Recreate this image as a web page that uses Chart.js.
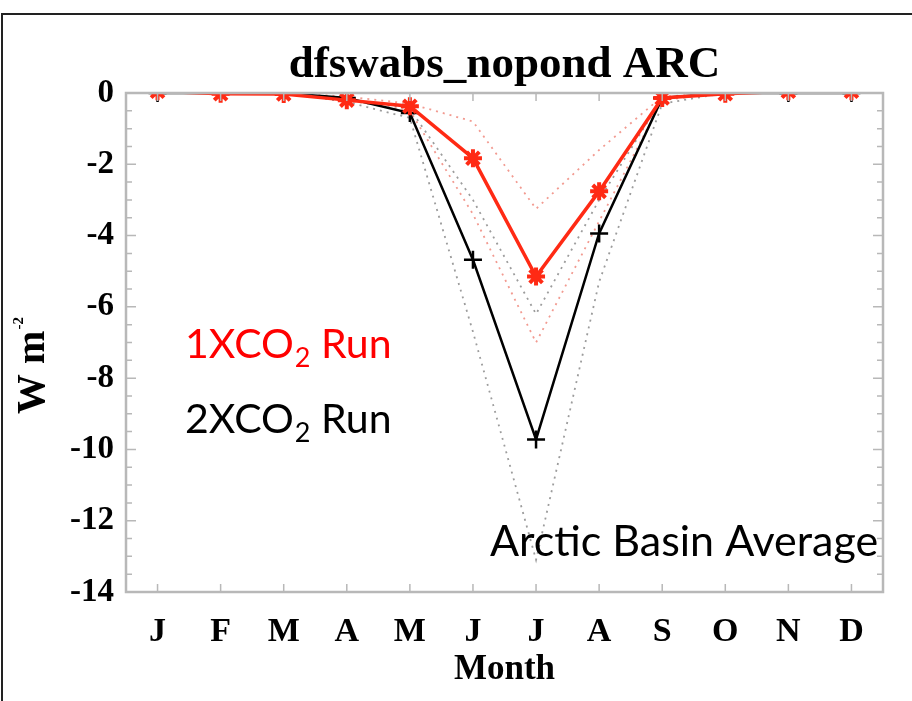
<!DOCTYPE html>
<html>
<head>
<meta charset="utf-8">
<script src="https://cdn.jsdelivr.net/npm/chart.js@4.4.0/dist/chart.umd.min.js"></script>
<style>
  html, body { margin: 0; padding: 0; background: #fff; }
  #wrap { width: 912px; height: 701px; position: relative; }
</style>
</head>
<body>
<div id="wrap"><canvas id="chart" width="912" height="701"></canvas></div>
<script>
// month labels on the x axis
const months = ["J", "F", "M", "A", "M", "J", "J", "A", "S", "O", "N", "D"];
const yTicks = [0, -2, -4, -6, -8, -10, -12, -14];

// W m-2
const run1x = [0.05, -0.02, -0.03, -0.2, -0.37, -1.83, -5.15, -2.76, -0.14, -0.02, 0.05, 0.05];
const run2x = [0, 0, 0, -0.14, -0.56, -4.68, -9.72, -3.94, -0.14, 0, 0, 0];

// dotted spread lines
const run1xHigh = [0, 0, 0, -0.1, -0.3, -0.8, -3.25, -1.6, -0.1, 0, 0, 0];
const run1xLow = [0, 0, 0, -0.2, -0.5, -3.4, -7.0, -3.6, -0.2, 0, 0, 0];
const run2xHigh = [0, 0, 0, -0.15, -0.45, -3.0, -6.2, -3.0, -0.15, 0, 0, 0];
const run2xLow = [0, 0, 0, -0.25, -0.7, -6.7, -13.1, -5.3, -0.3, 0, 0, 0];

const serif = "'Liberation Serif', 'Times New Roman', serif";
const sans = "Lato, 'Open Sans', sans-serif";
const boxColor = "#b8b8b8";

// Draws frame, inward ticks, titles and the text notes
const decorPlugin = {
    id: "decor",
    beforeDraw(chart) {
        const ctx = chart.ctx;
        ctx.save();
        ctx.fillStyle = "#fff";
        ctx.fillRect(0, 0, chart.width, chart.height);
        // outer picture frame
        ctx.strokeStyle = "#222";
        ctx.lineWidth = 2;
        ctx.beginPath();
        ctx.moveTo(912, 14);
        ctx.lineTo(2, 14);
        ctx.lineTo(2, 701);
        ctx.stroke();
        ctx.restore();
    },
    afterDatasetsDraw(chart) {
        const ctx = chart.ctx;
        const a = chart.chartArea;
        const xs = chart.scales.x;
        const ys = chart.scales.y;
        ctx.save();

        // plot box
        ctx.strokeStyle = boxColor;
        ctx.lineWidth = 2.5;
        ctx.strokeRect(a.left, a.top, a.right - a.left, a.bottom - a.top);

        // y ticks, major every 2, minor every 0.5
        ctx.lineWidth = 1.5;
        ctx.beginPath();
        for (let v = 0; v >= -14; v -= 0.5) {
            const y = ys.getPixelForValue(v);
            const len = (v % 2 === 0) ? 10 : 6;
            ctx.moveTo(a.left, y);
            ctx.lineTo(a.left + len, y);
            ctx.moveTo(a.right, y);
            ctx.lineTo(a.right - len, y);
        }
        // x ticks, one per month
        months.forEach((m, i) => {
            const x = xs.getPixelForValue(i);
            ctx.moveTo(x, a.bottom);
            ctx.lineTo(x, a.bottom - 8);
            ctx.moveTo(x, a.top);
            ctx.lineTo(x, a.top + 8);
        });
        ctx.stroke();

        // title
        ctx.fillStyle = "#000";
        ctx.textAlign = "center";
        ctx.textBaseline = "alphabetic";
        ctx.font = "bold 45px " + serif;
        ctx.fillText("dfswabs_nopond ARC", (a.left + a.right) / 2, 77);

        // x axis title
        ctx.font = "bold 35px " + serif;
        ctx.fillText("Month", (a.left + a.right) / 2, 679);

        // y axis title with superscript
        ctx.save();
        ctx.translate(44, 366);
        ctx.rotate(-Math.PI / 2);
        ctx.textAlign = "left";
        ctx.font = "bold 40px " + serif;
        const main = "W m";
        const wMain = ctx.measureText(main).width;
        ctx.font = "bold 15px " + serif;
        const wSup = ctx.measureText("-2").width;
        const start = -(wMain + wSup) / 2;
        ctx.font = "bold 40px " + serif;
        ctx.fillText(main, start, 0);
        ctx.font = "bold 15px " + serif;
        ctx.fillText("-2", start + wMain + 1, -21);
        ctx.restore();

        // run labels with subscript 2
        function runLabel(prefix, color, x, y) {
            ctx.textAlign = "left";
            ctx.fillStyle = color;
            ctx.font = "41px " + sans;
            ctx.fillText(prefix + "XCO", x, y);
            let w = ctx.measureText(prefix + "XCO").width;
            ctx.font = "27px " + sans;
            ctx.fillText("2", x + w + 1, y + 9);
            w += ctx.measureText("2").width + 1;
            ctx.font = "41px " + sans;
            ctx.fillText(" Run", x + w, y);
        }
        runLabel("1", "#ff0000", 185, 358);
        runLabel("2", "#000000", 185, 433);

        ctx.fillStyle = "#000";
        ctx.font = "43px " + sans;
        ctx.textAlign = "left";
        ctx.fillText("Arctic Basin Average", 490, 556);

        ctx.restore();
    }
};

const ctx = document.getElementById("chart").getContext("2d");

const chart = new Chart(ctx, {
    type: "line",
    data: {
        labels: months,
        datasets: [
            {
                label: "1XCO2 Run",
                data: run1x,
                borderColor: "#ff2a14",
                backgroundColor: "#ff2a14",
                borderWidth: 3.5,
                pointStyle: "star",
                pointRadius: 9,
                pointBorderWidth: 4,
                clip: 0,
                order: 1
            },
            {
                label: "2XCO2 Run",
                data: run2x,
                borderColor: "#000",
                backgroundColor: "#000",
                borderWidth: 2.5,
                pointStyle: "cross",
                pointRadius: 9,
                pointBorderWidth: 2.5,
                clip: 0,
                order: 2
            },
            {
                label: "1X high",
                data: run1xHigh,
                borderColor: "#f29a90",
                borderWidth: 1.8,
                borderDash: [2, 5],
                pointRadius: 0,
                clip: 0,
                order: 3
            },
            {
                label: "1X low",
                data: run1xLow,
                borderColor: "#f29a90",
                borderWidth: 1.8,
                borderDash: [2, 5],
                pointRadius: 0,
                clip: 0,
                order: 3
            },
            {
                label: "2X high",
                data: run2xHigh,
                borderColor: "#9c9c9c",
                borderWidth: 1.8,
                borderDash: [2, 5],
                pointRadius: 0,
                clip: 0,
                order: 4
            },
            {
                label: "2X low",
                data: run2xLow,
                borderColor: "#9c9c9c",
                borderWidth: 1.8,
                borderDash: [2, 5],
                pointRadius: 0,
                clip: 0,
                order: 4
            }
        ]
    },
    options: {
        responsive: false,
        animation: false,
        devicePixelRatio: 1,
        layout: {
            padding: { top: 93, right: 29, bottom: 0, left: 0 }
        },
        plugins: {
            legend: { display: false },
            tooltip: { enabled: false },
            title: { display: false }
        },
        elements: {
            line: { tension: 0 }
        },
        scales: {
            x: {
                type: "category",
                offset: true,
                grid: { display: false, drawTicks: false },
                border: { display: false },
                ticks: {
                    color: "#000",
                    padding: 20,
                    maxRotation: 0,
                    font: { family: serif, size: 34, weight: "bold" }
                },
                afterFit(scale) { scale.height = 109; }
            },
            y: {
                min: -14,
                max: 0,
                afterBuildTicks(scale) {
                    scale.ticks = yTicks.map(v => ({ value: v }));
                },
                grid: { display: false, drawTicks: false },
                border: { display: false },
                ticks: {
                    color: "#000",
                    padding: 12,
                    font: { family: serif, size: 33, weight: "bold" }
                },
                afterFit(scale) { scale.width = 126; }
            }
        }
    },
    plugins: [decorPlugin]
});
</script>
</body>
</html>
